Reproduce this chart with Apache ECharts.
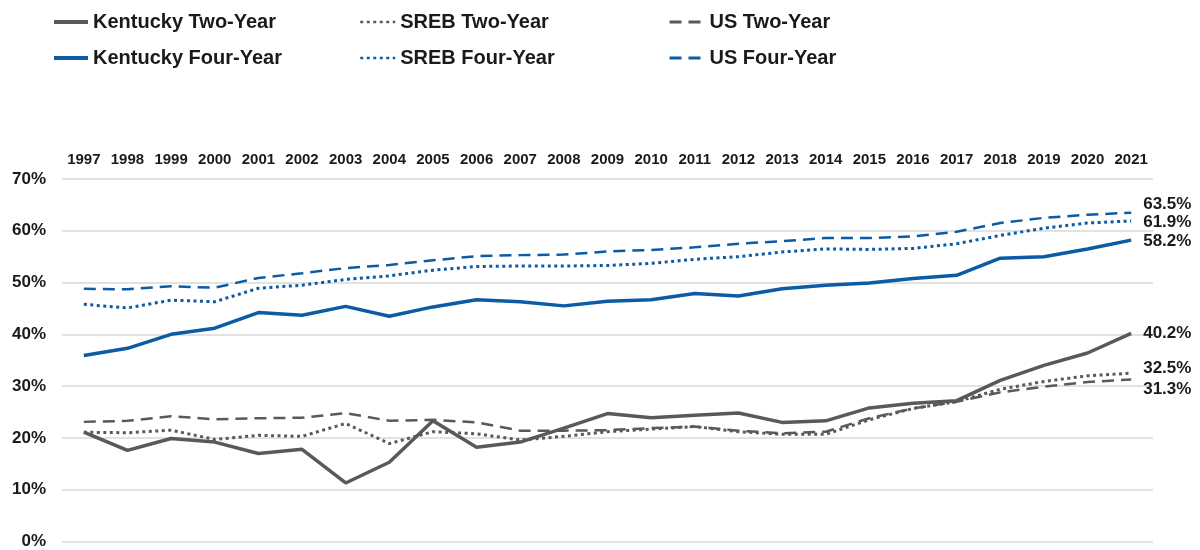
<!DOCTYPE html>
<html>
<head>
<meta charset="utf-8">
<script src="https://cdn.jsdelivr.net/npm/echarts@6/dist/echarts.min.js"></script>
<style>html,body{margin:0;padding:0;background:#fff}#c{width:1200px;height:550px}</style>
</head>
<body>
<div id="c"></div>
<script>
var years = ['1997','1998','1999','2000','2001','2002','2003','2004','2005','2006','2007','2008','2009','2010','2011','2012','2013','2014','2015','2016','2017','2018','2019','2020','2021'];
var kyTwo   = [21.1,17.6,19.9,19.2,17.0,17.8,11.3,15.3,23.3,18.2,19.2,21.9,24.7,23.9,24.4,24.8,23.0,23.3,25.8,26.7,27.2,31.1,34.0,36.4,40.2];
var srebTwo = [21.1,21.0,21.5,19.7,20.5,20.3,22.8,18.9,21.2,20.8,19.6,20.3,21.2,21.7,22.2,21.2,20.7,20.7,23.5,25.7,27.0,29.4,30.9,32.0,32.5];
var usTwo   = [23.1,23.3,24.2,23.6,23.8,23.9,24.8,23.3,23.5,23.0,21.4,21.4,21.5,21.9,22.2,21.4,20.9,21.2,23.8,25.7,27.0,28.8,29.9,30.8,31.3];
var kyFour  = [35.9,37.3,40.0,41.2,44.2,43.7,45.4,43.5,45.3,46.7,46.3,45.5,46.4,46.7,47.9,47.4,48.8,49.5,49.9,50.8,51.4,54.7,55.0,56.5,58.2];
var srebFour= [45.8,45.1,46.6,46.3,48.9,49.5,50.6,51.3,52.4,53.1,53.2,53.2,53.3,53.7,54.5,55.0,55.9,56.5,56.4,56.6,57.5,59.1,60.5,61.5,61.9];
var usFour  = [48.8,48.7,49.3,49.0,50.9,51.8,52.8,53.4,54.3,55.1,55.3,55.4,56.0,56.3,56.8,57.5,58.0,58.6,58.6,58.9,59.8,61.5,62.5,63.1,63.5];

var GRAY = '#595959', BLUE = '#0b5ba5', TXT = '#1a1a1a';
var FONT = 'Liberation Sans, Arial, sans-serif';

function mk(name, data, color, type, width, offY) {
  return {
    name: name, type: 'line', data: data, symbol: 'none', showSymbol: false,
    lineStyle: {color: color, width: width, type: type},
    itemStyle: {color: color},
    emphasis: {disabled: true},
    endLabel: {
      show: true, distance: 12, offset: [0, offY || 0],
      formatter: function (p) { return p.value.toFixed(1) + '%'; },
      color: TXT, fontFamily: FONT, fontWeight: 'bold', fontSize: 17
    }
  };
}
var legText = {color: TXT, fontFamily: FONT, fontWeight: 'bold', fontSize: 20};
function leg(left, names, w, lw) {
  return {data: names, left: left, top: 12, orient: 'vertical', itemGap: 16, padding: 0,
    itemWidth: w, itemHeight: 14, textStyle: legText, selectedMode: false,
    itemStyle: {opacity: 0}, lineStyle: {width: lw}};
}
var chart = echarts.init(document.getElementById('c'), null, {renderer: 'canvas'});
chart.setOption({
  animation: false,
  legend: [
    leg(52, ['Kentucky Two-Year', 'Kentucky Four-Year'], 34, 4),
    leg(359, ['SREB Two-Year', 'SREB Four-Year'], 35, 2.5),
    leg(668, ['US Two-Year', 'US Four-Year'], 35, 3)
  ],
  grid: {left: 62, right: 47, top: 179, bottom: 6, containLabel: false},
  xAxis: {
    type: 'category', data: years, position: 'top', boundaryGap: true,
    axisLine: {show: false}, axisTick: {show: false},
    axisLabel: {color: TXT, fontFamily: FONT, fontWeight: 'bold', fontSize: 15, margin: 12, interval: 0}
  },
  yAxis: {
    type: 'value', min: 0, max: 70, interval: 10,
    axisLine: {show: false}, axisTick: {show: false},
    splitLine: {lineStyle: {color: '#d9d9d9', width: 1.5}},
    axisLabel: {color: TXT, fontFamily: FONT, fontWeight: 'bold', fontSize: 17, margin: 16,
      formatter: '{value}%'}
  },
  series: [
    mk('Kentucky Two-Year', kyTwo, GRAY, 'solid', 3.5, 0),
    mk('SREB Two-Year', srebTwo, GRAY, [3, 3.5], 3, -5),
    mk('US Two-Year', usTwo, GRAY, [12, 7], 2.5, 10),
    mk('Kentucky Four-Year', kyFour, BLUE, 'solid', 3.5, 1),
    mk('SREB Four-Year', srebFour, BLUE, [3, 3.5], 3, 1),
    mk('US Four-Year', usFour, BLUE, [12, 7], 2.5, -8)
  ]
});
</script>
</body>
</html>
